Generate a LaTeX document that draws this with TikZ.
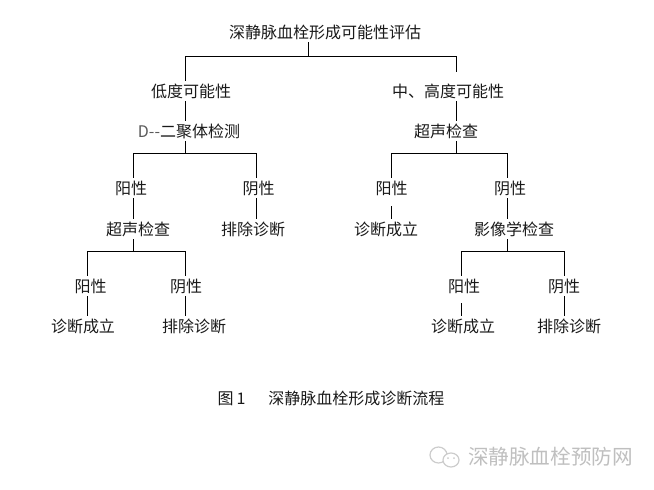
\documentclass[tikz,border=0pt]{standalone}
\usepackage{fontspec}
\setmainfont{Noto Sans CJK SC}
\usetikzlibrary{positioning}

\begin{document}
\begin{tikzpicture}[x=1pt, y=-1pt, on grid]
    \tikzset{
        lbl/.style={inner sep=0pt, minimum height=20pt, text height=16pt, text depth=3pt, font=\fontsize{16}{16}\selectfont, text=black!90},
        line/.style={draw, black, line width=0.9pt},
        logo/.style={draw=black!20, line width=1.2pt, fill=white}
    }
    \useasboundingbox (0,0) rectangle (654,490);
    \node [lbl] (root) at (325,32) {深静脉血栓形成可能性评估};
    \node [lbl, below=59pt of root, xshift=-134pt] (low) {低度可能性};
    \node [lbl, below=59pt of root, xshift=123pt] (mid) {中、高度可能性};
    \node [lbl, below=40pt of low, xshift=-2pt] (dimer) {\textcolor{black!65}{D-{}-}二聚体检测};
    \node [lbl, below=40pt of mid, xshift=-2pt] (usa) {超声检查};

    \node [lbl, below=57pt of dimer, xshift=-58pt] (posa) {阳性};
    \node [lbl, below=57pt of dimer, xshift=69.7pt] (nega) {阴性};
    \node [lbl, below=57pt of usa, xshift=-54.5pt] (posb) {阳性};
    \node [lbl, below=57pt of usa, xshift=64pt] (negb) {阴性};

    \node [lbl, below=41pt of posa, xshift=7pt] (usb) {超声检查};
    \node [lbl, below=41pt of nega, xshift=-5.7pt] (exa) {排除诊断};
    \node [lbl, below=41pt of posb, xshift=-5.5pt] (dxa) {诊断成立};
    \node [lbl, below=41pt of negb, xshift=4pt] (img) {影像学检查};

    \node [lbl, below=57pt of usb, xshift=-47.5pt] (posc) {阳性};
    \node [lbl, below=57pt of usb, xshift=48pt] (negc) {阴性};
    \node [lbl, below=57pt of img, xshift=-50pt] (posd) {阳性};
    \node [lbl, below=57pt of img, xshift=50pt] (negd) {阴性};

    \node [lbl, below=40pt of posc, xshift=-7.5pt] (dxb) {诊断成立};
    \node [lbl, below=40pt of negc, xshift=8pt] (exb) {排除诊断};
    \node [lbl, below=40pt of posd, xshift=-1pt] (dxc) {诊断成立};
    \node [lbl, below=40pt of negd, xshift=5pt] (exc) {排除诊断};

    \node [lbl, below=366pt of root, xshift=6pt] (cap) {图\hspace{3pt}1\hspace{23pt}深静脉血栓形成诊断流程};
    \node [lbl, text=black!25, font=\fontsize{20.6}{20.6}\selectfont, below=426pt of root, xshift=225.5pt] (wm) {深静脉血栓预防网};

    % Branch points
    \coordinate (ja) at (308.5,56);
    \coordinate (jb) at (185.5,56);
    \coordinate (jc) at (456.5,56);
    \coordinate (jd) at (185.5,153.5);
    \coordinate (je) at (133.5,153.5);
    \coordinate (jf) at (256,153.5);
    \coordinate (jg) at (456.5,153.5);
    \coordinate (jh) at (391,153.5);
    \coordinate (ji) at (507,153.5);
    \coordinate (jj) at (133.5,251);
    \coordinate (jk) at (87.5,251);
    \coordinate (jl) at (185,251);
    \coordinate (jm) at (507,251);
    \coordinate (jn) at (461.5,251);
    \coordinate (jo) at (564,251);

    \path [line] (root.south -| ja) -- (ja);
    \path [line] (jb |- low.north) -- (jb) -- (jc) -- ([yshift=9pt]jc |- mid.north);
    \path [line] (low.south -| jb) -- (dimer.north -| jb);
    \path [line] (dimer.south -| jd) -- (jd);
    \path [line] (mid.south -| jc) -- (usa.north -| jc);
    \path [line] (usa.south -| jg) -- (jg);

    \path [line] (posa.north -| je) -- (je) -- (jf) -- (nega.north -| jf);
    \path [line] (posb.north -| jh) -- (jh) -- (ji) -- (negb.north -| ji);

    \path [line] (posa.south -| je) -- (usb.north -| je);
    \path [line] (nega.south -| jf) -- (exa.north -| jf);
    \path [line, shorten <=8pt] (posb.south -| jh) -- (dxa.north -| jh);
    \path [line] (negb.south -| ji) -- (img.north -| ji);

    \path [line] (usb.south -| jj) -- (jj);
    \path [line] (img.south -| jm) -- (jm);
    \path [line] (posc.north -| jk) -- (jk) -- (jl) -- (negc.north -| jl);
    \path [line] (posd.north -| jn) -- (jn) -- (jo) -- (negd.north -| jo);

    \path [line] (posc.south -| jk) -- (dxb.north -| jk);
    \path [line] (negc.south -| jl) -- (exb.north -| jl);
    \path [line, shorten <=7pt] (posd.south -| jn) -- (dxc.north -| jn);
    \path [line] (negd.south -| jo) -- (exc.north -| jo);

    % Logo beside the watermark
    \draw [logo] (438.5,455) ellipse (8.5pt and 8pt);
    \draw [logo] (451,460) ellipse (8pt and 7pt);
    \fill [black!20] (448,458) circle (1pt) (454,458) circle (1pt);
\end{tikzpicture}
\end{document}
